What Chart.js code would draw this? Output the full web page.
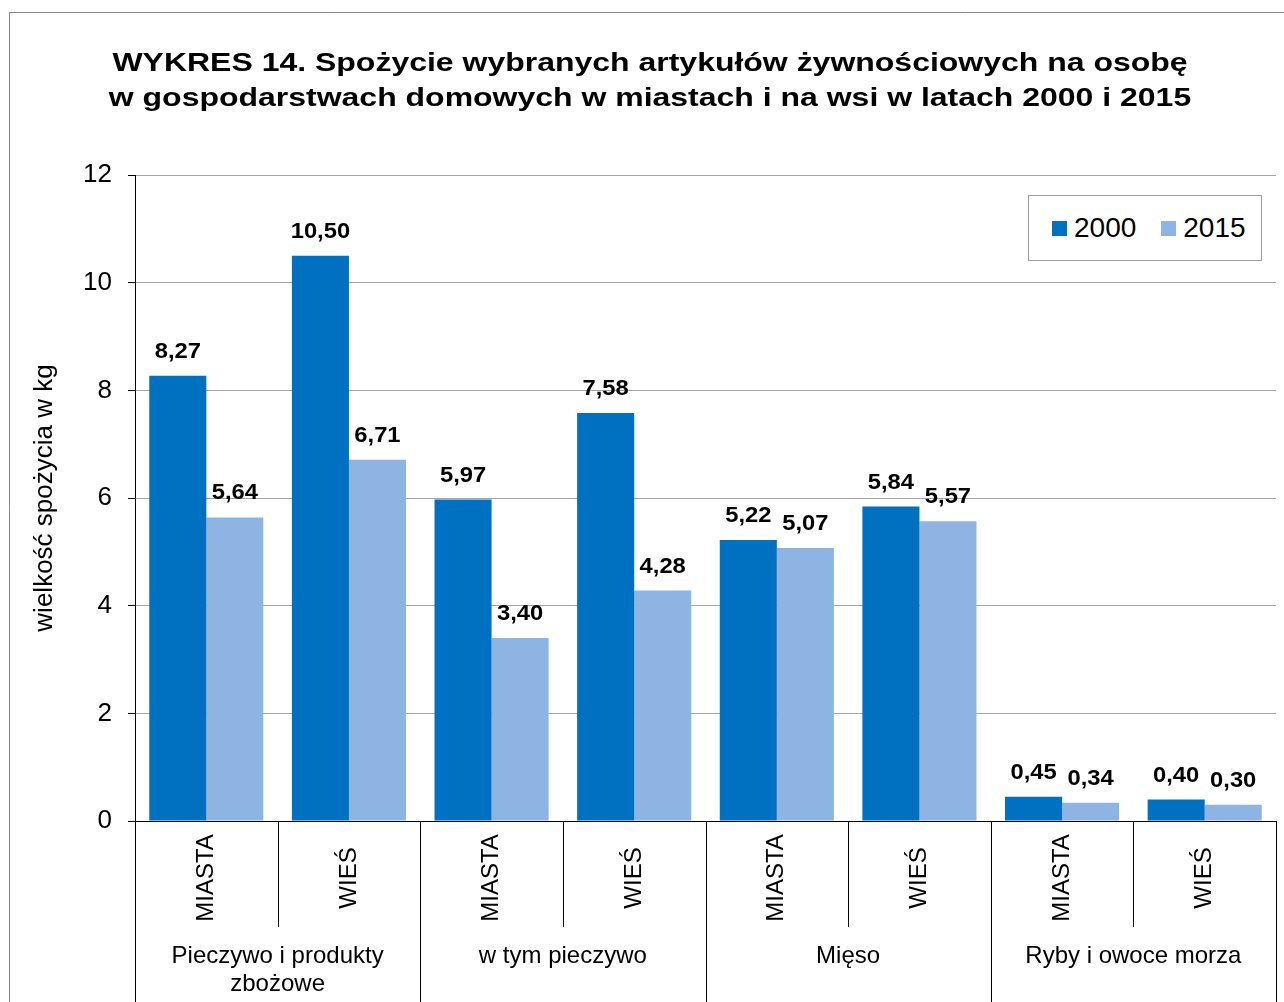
<!DOCTYPE html>
<html>
<head>
<meta charset="utf-8">
<script src="https://cdn.jsdelivr.net/npm/chart.js@4.4.1/dist/chart.umd.min.js"></script>
<style>
  html, body { margin: 0; padding: 0; background: #fff; }
  #wrap { position: relative; width: 1284px; height: 1002px; overflow: hidden; }
  #legend {
    position: absolute; left: 1028px; top: 195px; width: 234px; height: 66px;
    box-sizing: border-box; border: 1px solid #a0a0a0; background: #fff;
    display: flex; align-items: center; padding-left: 23px;
    font-family: 'Liberation Sans', Arial, sans-serif; font-size: 28px; color: #000;
  }
  #legend .item { display: flex; align-items: center; margin-right: 25px; }
  #legend .box { width: 15px; height: 15px; margin-right: 7px; }
</style>
</head>
<body>
<div id="wrap">
  <canvas id="chart" width="1284" height="1002"></canvas>
  <div id="legend"></div>
</div>
<script>
const titleLines = [
  'WYKRES 14. Spożycie wybranych artykułów żywnościowych na osobę',
  'w gospodarstwach domowych w miastach i na wsi w latach 2000 i 2015'
];
const groups = ['Pieczywo i produkty\nzbożowe', 'w tym pieczywo', 'Mięso', 'Ryby i owoce morza'];
const places = ['MIASTA', 'WIEŚ', 'MIASTA', 'WIEŚ', 'MIASTA', 'WIEŚ', 'MIASTA', 'WIEŚ'];
const values2000 = [8.27, 10.50, 5.97, 7.58, 5.22, 5.84, 0.45, 0.40];
const values2015 = [5.64, 6.71, 3.40, 4.28, 5.07, 5.57, 0.34, 0.30];
const yTitle = 'wielkość spożycia w kg';

const FONT = "'Liberation Sans', Arial, sans-serif";
const DARK = '#0070C0';
const LIGHT = '#8EB4E3';

function fmt(v) {
  return v.toFixed(2).replace('.', ',');
}

// text in the original is drawn a bit wider than plain Arial
function wideText(ctx, text, x, y, sx) {
  ctx.save();
  ctx.translate(x, y);
  ctx.scale(sx, 1);
  ctx.fillText(text, 0, 0);
  ctx.restore();
}

const frame = {
  id: 'frame',
  beforeDraw(chart) {
    const ctx = chart.ctx;
    ctx.save();
    ctx.strokeStyle = '#888888';
    ctx.lineWidth = 1;
    ctx.beginPath();
    ctx.moveTo(9.5, chart.height);
    ctx.lineTo(9.5, 12.5);
    ctx.lineTo(chart.width, 12.5);
    ctx.stroke();
    ctx.restore();
  },
  afterDraw(chart) {
    const ctx = chart.ctx;
    ctx.save();
    ctx.fillStyle = '#000';
    ctx.textAlign = 'center';
    ctx.textBaseline = 'middle';
    ctx.font = 'bold 26px ' + FONT;
    titleLines.forEach((t, i) => wideText(ctx, t, 650, 64 + i * 35, 1.23));
    ctx.restore();
  }
};

const barLabels = {
  id: 'barLabels',
  afterDatasetsDraw(chart) {
    const ctx = chart.ctx;
    ctx.save();
    ctx.fillStyle = '#000';
    ctx.font = 'bold 22px ' + FONT;
    ctx.textAlign = 'center';
    ctx.textBaseline = 'middle';
    chart.data.datasets.forEach((ds, di) => {
      chart.getDatasetMeta(di).data.forEach((bar, i) => {
        wideText(ctx, fmt(ds.data[i]), bar.x, bar.y - 24, 1.08);
      });
    });
    ctx.restore();
  }
};

const multiAxis = {
  id: 'multiAxis',
  afterDraw(chart) {
    const ctx = chart.ctx;
    const x = chart.scales.x;
    const area = chart.chartArea;
    const half = (x.getPixelForValue(1) - x.getPixelForValue(0)) / 2;
    ctx.save();
    ctx.strokeStyle = '#000';
    ctx.lineWidth = 1;
    // separators: every boundary; group boundaries reach the bottom
    for (let i = 0; i <= places.length; i++) {
      const px = Math.round(x.getPixelForValue(i) - half) + 0.5;
      const major = i % 2 === 0;
      ctx.beginPath();
      ctx.moveTo(px, area.bottom);
      ctx.lineTo(px, major ? chart.height : area.bottom + 106);
      ctx.stroke();
    }
    ctx.fillStyle = '#000';
    ctx.font = '24px ' + FONT;
    ctx.textAlign = 'center';
    ctx.textBaseline = 'middle';
    places.forEach((p, i) => {
      ctx.save();
      ctx.translate(x.getPixelForValue(i), area.bottom + 57);
      ctx.rotate(-Math.PI / 2);
      ctx.fillText(p, 0, 0);
      ctx.restore();
    });
    groups.forEach((g, gi) => {
      const cx = (x.getPixelForValue(gi * 2) + x.getPixelForValue(gi * 2 + 1)) / 2;
      const lines = g.split('\n');
      lines.forEach((l, li) => ctx.fillText(l, cx, area.bottom + 135 + li * 28));
    });
    ctx.restore();
  }
};

const chart = new Chart(document.getElementById('chart'), {
  type: 'bar',
  data: {
    labels: places,
    datasets: [
      { label: '2000', data: values2000, backgroundColor: DARK },
      { label: '2015', data: values2015, backgroundColor: LIGHT }
    ]
  },
  options: {
    responsive: false,
    animation: false,
    layout: { padding: { left: 0, right: 8, top: 175, bottom: 0 } },
    datasets: { bar: { categoryPercentage: 0.8, barPercentage: 1.0 } },
    plugins: {
      legend: { display: false },
      tooltip: { enabled: false },
      title: { display: false }
    },
    scales: {
      x: {
        ticks: { display: false },
        grid: { display: false },
        border: { display: true, color: '#000', width: 1 },
        afterFit(scale) { scale.height = 181; }
      },
      y: {
        min: 0,
        max: 12,
        ticks: { stepSize: 2, color: '#000', font: { family: FONT, size: 26 }, padding: 16 },
        grid: {
          color: c => (c.tick && c.tick.value === 0) ? 'rgba(0,0,0,0)' : '#a6a6a6',
          tickColor: '#000',
          tickLength: 7
        },
        border: { display: true, color: '#000', width: 1 },
        title: {
          display: true,
          text: yTitle,
          color: '#000',
          font: { family: FONT, size: 26 },
          padding: { top: 29, bottom: 0 }
        },
        afterFit(scale) { scale.width = 135; }
      }
    }
  },
  plugins: [frame, barLabels, multiAxis]
});

// html legend built from the chart's datasets
const legendEl = document.getElementById('legend');
chart.data.datasets.forEach(ds => {
  const item = document.createElement('span');
  item.className = 'item';
  const sw = document.createElement('span');
  sw.className = 'box';
  sw.style.background = ds.backgroundColor;
  const txt = document.createElement('span');
  txt.textContent = ds.label;
  item.appendChild(sw);
  item.appendChild(txt);
  legendEl.appendChild(item);
});
</script>
</body>
</html>
